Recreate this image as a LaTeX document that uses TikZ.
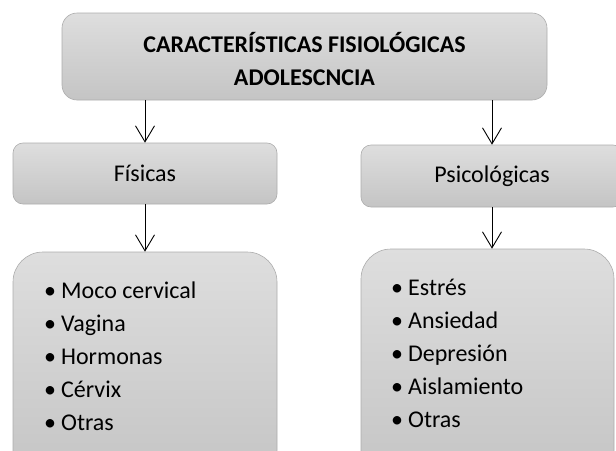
\documentclass[tikz,border=0pt]{standalone}
\usepackage{fontspec}
\setmainfont{Carlito}
\usetikzlibrary{arrows.meta}
\begin{document}
\begin{tikzpicture}[x=1pt,y=-1pt,
  box/.style={draw=gray!65, line width=0.6pt, top color=gray!26, bottom color=gray!46, rounded corners=#1, inner sep=0pt},
  arr/.style={-{Straight Barb[length=16pt,width=19pt,line width=0.9pt]}, line width=0.9pt},
  txt/.style={font=\fontsize{24}{33}\selectfont, align=left, inner sep=0pt}]
\useasboundingbox (0,0) rectangle (616,450);
\node[box=15pt, minimum width=485pt, minimum height=87pt] (top) at (304.5,56.5) {};
\node[align=center, inner sep=0pt, font=\fontsize{24}{33}\selectfont\bfseries, anchor=base] (ttl) at (304.5,85)
      {CARACTERÍSTICAS FISIOLÓGICAS\\ADOLESCNCIA};
\node[box=10pt, minimum width=264pt, minimum height=61pt, font=\fontsize{24}{28}\selectfont] (fis) at (145,173.5) {Físicas};
\node[box=10pt, minimum width=262pt, minimum height=62pt, font=\fontsize{24}{28}\selectfont] (psi) at (492,176) {Psicológicas};
\node[box=30pt, minimum width=264pt, minimum height=228pt] (lfis) at (145,366) {};
\node[box=30pt, minimum width=253pt, minimum height=231pt] (lpsi) at (487.5,364.5) {};
\node[txt, anchor=base west] (tfis) at (44,430)
  {\textbullet\hspace{5pt}Moco cervical\\\textbullet\hspace{5pt}Vagina\\\textbullet\hspace{5pt}Hormonas\\\textbullet\hspace{5pt}Cérvix\\\textbullet\hspace{5pt}Otras};
\node[txt, anchor=base west] (tpsi) at (391,427)
  {\textbullet\hspace{5pt}Estrés\\\textbullet\hspace{5pt}Ansiedad\\\textbullet\hspace{5pt}Depresión\\\textbullet\hspace{5pt}Aislamiento\\\textbullet\hspace{5pt}Otras};
\draw[arr] (top.south -| fis.north) -- (fis.north);
\draw[arr] (top.south -| psi.north) -- (psi.north);
\draw[arr] (fis.south) -- (fis.south |- lfis.north);
\draw[arr] (psi.south) -- (psi.south |- lpsi.north);
\end{tikzpicture}
\end{document}
